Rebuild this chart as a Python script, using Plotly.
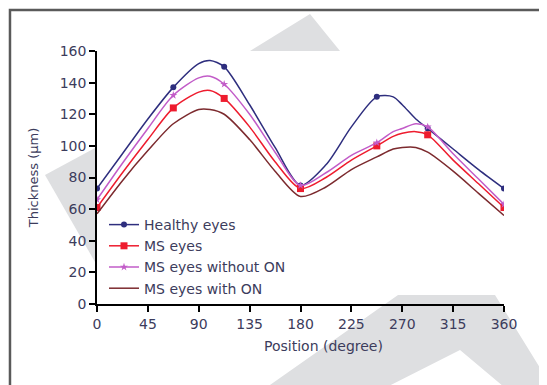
import plotly.graph_objects as go

# ---- data ----
positions = [0, 22.5, 45, 67.5, 90, 100, 112.5, 135, 157.5, 180, 202.5, 225, 247.5, 262, 270, 282, 292.5, 315, 337.5, 360]
healthy = [73, 95, 117, 137, 152, 154, 150, 126, 99, 75, 88, 112, 131, 131, 126, 117, 111, 98, 85, 73]
ms_eyes = [61, 83, 104, 124, 134, 135, 130, 112, 90, 73, 80, 91, 100, 106, 108, 109, 107, 91, 76, 61]
ms_without_on = [66, 89, 111, 132, 143, 144, 139, 120, 96, 75, 83, 94, 102, 109, 111, 114, 112, 95, 79, 63]
ms_with_on = [57, 78, 97, 114, 123, 123, 120, 104, 84, 68, 74, 85, 93, 98, 99, 99, 96, 84, 70, 56]

marker_positions = [0, 67.5, 112.5, 180, 247.5, 292.5, 360]

series_names = ["Healthy eyes", "MS eyes", "MS eyes without ON", "MS eyes with ON"]
x_ticks = [0, 45, 90, 135, 180, 225, 270, 315, 360]
y_ticks = [0, 20, 40, 60, 80, 100, 120, 140, 160]

styles = [
    dict(color="#2e2e7e", symbol="circle", size=6),
    dict(color="#ee1c2e", symbol="square", size=7),
    dict(color="#c25cc8", symbol="star", size=6),
    dict(color="#7c2a2e", symbol=None, size=0),
]
all_series = [healthy, ms_eyes, ms_without_on, ms_with_on]

fig = go.Figure()
for name, vals, st in zip(series_names, all_series, styles):
    fig.add_trace(go.Scatter(x=positions, y=vals, mode="lines", line=dict(color=st["color"], width=1.5, shape="spline", smoothing=0.8),
                             showlegend=False, legendgroup=name, hoverinfo="skip"))
    if st["symbol"]:
        mv = [vals[positions.index(p)] for p in marker_positions]
        fig.add_trace(go.Scatter(x=marker_positions, y=mv, mode="markers",
                                 marker=dict(color=st["color"], symbol=st["symbol"], size=st["size"]),
                                 showlegend=False, legendgroup=name))
        fig.add_trace(go.Scatter(x=[None], y=[None], mode="lines+markers", name=name, legendgroup=name,
                                 line=dict(color=st["color"], width=1.5),
                                 marker=dict(color=st["color"], symbol=st["symbol"], size=st["size"])))
    else:
        fig.add_trace(go.Scatter(x=[None], y=[None], mode="lines", name=name, legendgroup=name,
                                 line=dict(color=st["color"], width=1.5)))

# the page body adds an 8px margin; the figure is sized to fill the rest of the window
OFF = 8
W, H = 547 - OFF, 385 - OFF
# plot area in screen pixels
SL, SR, ST, SB = 97, 504, 51, 304
L, R, T, B = SL - OFF, SR - OFF, ST - OFF, SB - OFF

def px(x):
    return (x - SL) / (SR - SL)
def py(y):
    return (SB - y) / (SB - ST)

def poly(points):
    return "M " + " L ".join(f"{px(a):.4f},{py(b):.4f}" for a, b in points) + " Z"

gray = "#dedfe1"
shapes = []
shapes.append(dict(type="path", xref="paper", yref="paper", layer="below", line=dict(width=0), fillcolor=gray,
                   path=poly([(250, 51), (310, 14), (340, 51)])))
shapes.append(dict(type="path", xref="paper", yref="paper", layer="below", line=dict(width=0), fillcolor=gray,
                   path=poly([(45, 175), (95, 148), (95, 262)])))
shapes.append(dict(type="path", xref="paper", yref="paper", layer="below", line=dict(width=0), fillcolor=gray,
                   path=poly([(260, 392), (398, 295), (495, 295), (555, 392), (510, 392), (460, 350), (377, 392)])))
shapes.append(dict(type="path", xref="paper", yref="paper", layer="above", line=dict(width=2.5, color="#5a5a5a"),
                   path=f"M {px(10):.4f},{py(400):.4f} L {px(10):.4f},{py(10):.4f} L {px(560):.4f},{py(10):.4f}"))

font_col = "#3c3c5c"
fig.update_layout(
    width=W, height=H,
    margin=dict(l=L, r=W - R, t=T, b=H - B, autoexpand=False),
    paper_bgcolor="white", plot_bgcolor="rgba(0,0,0,0)",
    font=dict(family="DejaVu Sans", size=14, color=font_col),
    shapes=shapes,
    showlegend=True,
    legend=dict(x=px(104), y=py(209), xanchor="left", yanchor="top", bgcolor="rgba(0,0,0,0)",
                font=dict(size=14, color=font_col), tracegroupgap=0, itemwidth=30),
    annotations=[dict(text="Position (degree)", x=px(323), y=py(346), xref="paper", yref="paper",
                      showarrow=False, xanchor="center", yanchor="middle", font=dict(size=14, color=font_col))],
    xaxis=dict(range=[0, 360], tickvals=x_ticks, showgrid=False, zeroline=False, automargin=False,
               showline=True, linecolor="black", linewidth=1.5, ticks="outside", ticklen=6, tickwidth=1.5, tickcolor="black",
               tickfont=dict(size=14)),
    yaxis=dict(range=[0, 160], tickvals=y_ticks, showgrid=False, zeroline=False, automargin=False,
               showline=True, linecolor="black", linewidth=1.5, ticks="outside", ticklen=6, tickwidth=1.5, tickcolor="black",
               title=dict(text="Thickness (µm)", standoff=18, font=dict(size=13)), tickfont=dict(size=14)),
)

fig.write_html("out.html")
